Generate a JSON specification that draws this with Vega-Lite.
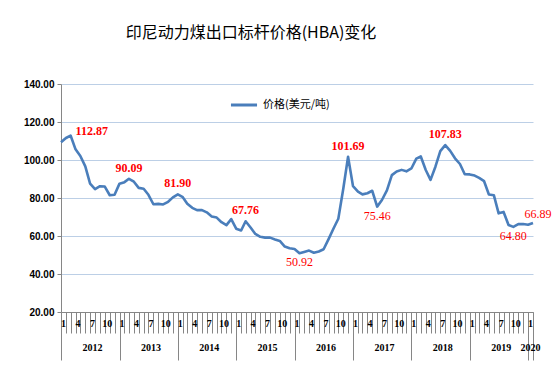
{
  "$schema": "https://vega.github.io/schema/vega-lite/v6.json",
  "width": 472,
  "height": 228,
  "autosize": {"type": "none"},
  "padding": {"left": 61, "top": 84, "right": 25, "bottom": 55},
  "background": "white",
  "config": {"view": {"stroke": null}},
  "title": {
    "text": "印尼动力煤出口标杆价格(HBA)变化",
    "font": "Noto Sans CJK SC",
    "fontSize": 16,
    "fontWeight": "normal",
    "color": "#000000",
    "anchor": "middle",
    "frame": "group",
    "dx": -46,
    "offset": 38
  },
  "data": {
    "values": [
      {"date": "2012-01", "price": 109.29}, {"date": "2012-02", "price": 111.58}, {"date": "2012-03", "price": 112.87},
      {"date": "2012-04", "price": 105.61}, {"date": "2012-05", "price": 102.12}, {"date": "2012-06", "price": 96.65},
      {"date": "2012-07", "price": 87.56}, {"date": "2012-08", "price": 84.65}, {"date": "2012-09", "price": 86.21},
      {"date": "2012-10", "price": 86.04}, {"date": "2012-11", "price": 81.44}, {"date": "2012-12", "price": 81.75},
      {"date": "2013-01", "price": 87.55}, {"date": "2013-02", "price": 88.35}, {"date": "2013-03", "price": 90.09},
      {"date": "2013-04", "price": 88.56}, {"date": "2013-05", "price": 85.33}, {"date": "2013-06", "price": 84.87},
      {"date": "2013-07", "price": 81.69}, {"date": "2013-08", "price": 76.70}, {"date": "2013-09", "price": 76.89},
      {"date": "2013-10", "price": 76.61}, {"date": "2013-11", "price": 78.01}, {"date": "2013-12", "price": 80.31},
      {"date": "2014-01", "price": 81.90}, {"date": "2014-02", "price": 80.44}, {"date": "2014-03", "price": 77.01},
      {"date": "2014-04", "price": 74.81}, {"date": "2014-05", "price": 73.60}, {"date": "2014-06", "price": 73.64},
      {"date": "2014-07", "price": 72.45}, {"date": "2014-08", "price": 70.29}, {"date": "2014-09", "price": 69.69},
      {"date": "2014-10", "price": 67.26}, {"date": "2014-11", "price": 65.70}, {"date": "2014-12", "price": 68.90},
      {"date": "2015-01", "price": 63.84}, {"date": "2015-02", "price": 62.92}, {"date": "2015-03", "price": 67.76},
      {"date": "2015-04", "price": 64.48}, {"date": "2015-05", "price": 61.08}, {"date": "2015-06", "price": 59.59},
      {"date": "2015-07", "price": 59.16}, {"date": "2015-08", "price": 59.14}, {"date": "2015-09", "price": 58.21},
      {"date": "2015-10", "price": 57.39}, {"date": "2015-11", "price": 54.43}, {"date": "2015-12", "price": 53.51},
      {"date": "2016-01", "price": 53.20}, {"date": "2016-02", "price": 50.92}, {"date": "2016-03", "price": 51.62},
      {"date": "2016-04", "price": 52.32}, {"date": "2016-05", "price": 51.20}, {"date": "2016-06", "price": 51.87},
      {"date": "2016-07", "price": 53.00}, {"date": "2016-08", "price": 58.37}, {"date": "2016-09", "price": 63.93},
      {"date": "2016-10", "price": 69.07}, {"date": "2016-11", "price": 84.89}, {"date": "2016-12", "price": 101.69},
      {"date": "2017-01", "price": 86.23}, {"date": "2017-02", "price": 83.32}, {"date": "2017-03", "price": 81.90},
      {"date": "2017-04", "price": 82.51}, {"date": "2017-05", "price": 83.81}, {"date": "2017-06", "price": 75.46},
      {"date": "2017-07", "price": 78.95}, {"date": "2017-08", "price": 83.97}, {"date": "2017-09", "price": 92.03},
      {"date": "2017-10", "price": 93.99}, {"date": "2017-11", "price": 94.80}, {"date": "2017-12", "price": 94.04},
      {"date": "2018-01", "price": 95.54}, {"date": "2018-02", "price": 100.69}, {"date": "2018-03", "price": 101.86},
      {"date": "2018-04", "price": 94.75}, {"date": "2018-05", "price": 89.53}, {"date": "2018-06", "price": 96.61},
      {"date": "2018-07", "price": 104.65}, {"date": "2018-08", "price": 107.83}, {"date": "2018-09", "price": 104.81},
      {"date": "2018-10", "price": 100.89}, {"date": "2018-11", "price": 97.90}, {"date": "2018-12", "price": 92.51},
      {"date": "2019-01", "price": 92.41}, {"date": "2019-02", "price": 91.80}, {"date": "2019-03", "price": 90.57},
      {"date": "2019-04", "price": 88.85}, {"date": "2019-05", "price": 81.86}, {"date": "2019-06", "price": 81.48},
      {"date": "2019-07", "price": 71.92}, {"date": "2019-08", "price": 72.67}, {"date": "2019-09", "price": 65.79},
      {"date": "2019-10", "price": 64.80}, {"date": "2019-11", "price": 66.27}, {"date": "2019-12", "price": 66.30},
      {"date": "2020-01", "price": 65.93}, {"date": "2020-02", "price": 66.89}
    ]
  },
  "encoding": {
    "x": {
      "field": "date",
      "type": "temporal",
      "scale": {
        "type": "utc",
        "nice": false,
        "domain": [
          {"year": 2012, "month": 1, "date": 1, "utc": true},
          {"year": 2020, "month": 2, "date": 1, "utc": true}
        ]
      },
      "axis": null
    },
    "y": {
      "field": "price",
      "type": "quantitative",
      "scale": {"domain": [20, 140], "nice": false, "zero": false},
      "axis": {
        "values": [20, 40, 60, 80, 100, 120, 140],
        "format": ".2f",
        "title": null,
        "grid": true,
        "gridColor": "#BCCFE6",
        "gridWidth": 1,
        "tickSize": 4,
        "tickColor": "#868686",
        "domainColor": "#868686",
        "labelFont": "Liberation Sans",
        "labelFontSize": 10,
        "labelFontWeight": "bold",
        "labelColor": "#000000",
        "labelPadding": 3
      }
    }
  },
  "layer": [
    {
      "mark": {"type": "line", "strokeWidth": 2.6, "strokeJoin": "round"},
      "encoding": {
        "x": {
          "field": "date",
          "type": "temporal",
          "axis": {
            "orient": "bottom",
            "title": null,
            "grid": false,
            "tickCount": {"interval": "month", "step": 1},
            "tickSize": 21,
            "tickColor": "#868686",
            "domainColor": "#868686",
            "labelExpr": "utcmonth(datum.value)==6 ? ['7', utcyear(datum.value)+''] : (utcyear(datum.value)==2020 && utcmonth(datum.value)==0) ? ['1','2020'] : (utcmonth(datum.value)%3==0 ? (utcmonth(datum.value)+1)+'' : '')",
            "labelOverlap": false,
            "labelFlush": false,
            "labelBound": false,
            "labelPadding": -15,
            "labelLineHeight": 24,
            "labelOffset": 2,
            "labelFont": "Liberation Serif",
            "labelFontSize": 10,
            "labelFontWeight": "bold",
            "labelColor": "#000000",
            "zindex": 1
          }
        },
        "color": {
          "datum": "价格(美元/吨)",
          "scale": {"range": ["#4A7EBB"]},
          "legend": {
            "orient": "none",
            "legendX": 168,
            "legendY": 6,
            "title": null,
            "symbolType": "stroke",
            "symbolStrokeWidth": 3,
            "symbolSize": 680,
            "labelFont": "Noto Sans CJK SC",
            "labelFontSize": 11,
            "labelColor": "#000000",
            "labelOffset": 4
          }
        }
      }
    },
    {
      "transform": [
        {"filter": "indexof([201303, 201401, 201503, 201612, 201808], utcyear(datum.date)*100 + utcmonth(datum.date) + 1) >= 0"}
      ],
      "mark": {"type": "text", "font": "Liberation Serif", "fontSize": 12, "fontWeight": "bold", "color": "#FF0000", "dy": -11},
      "encoding": {
        "x": {
          "field": "date",
          "type": "temporal",
          "axis": {
            "orient": "bottom",
            "title": null,
            "grid": false,
            "labels": false,
            "domain": false,
            "values": [
              {"year": 2012, "month": 1, "date": 1, "utc": true},
              {"year": 2013, "month": 1, "date": 1, "utc": true},
              {"year": 2014, "month": 1, "date": 1, "utc": true},
              {"year": 2015, "month": 1, "date": 1, "utc": true},
              {"year": 2016, "month": 1, "date": 1, "utc": true},
              {"year": 2017, "month": 1, "date": 1, "utc": true},
              {"year": 2018, "month": 1, "date": 1, "utc": true},
              {"year": 2019, "month": 1, "date": 1, "utc": true},
              {"year": 2020, "month": 1, "date": 1, "utc": true},
              {"year": 2020, "month": 2, "date": 1, "utc": true}
            ],
            "tickSize": 48,
            "tickColor": "#868686"
          }
        },
        "text": {"field": "price", "type": "quantitative", "format": ".2f"}
      }
    },
    {
      "transform": [
        {"filter": "indexof([201602, 201706, 201910], utcyear(datum.date)*100 + utcmonth(datum.date) + 1) >= 0"}
      ],
      "mark": {"type": "text", "font": "Liberation Serif", "fontSize": 12, "fontWeight": "normal", "color": "#FF0000", "dy": 9},
      "encoding": {
        "text": {"field": "price", "type": "quantitative", "format": ".2f"}
      }
    },
    {
      "transform": [
        {"filter": "utcyear(datum.date)==2012 && utcmonth(datum.date)==2"}
      ],
      "mark": {"type": "text", "font": "Liberation Serif", "fontSize": 12, "fontWeight": "bold", "color": "#FF0000", "align": "left", "dx": 5, "dy": -5},
      "encoding": {
        "text": {"field": "price", "type": "quantitative", "format": ".2f"}
      }
    },
    {
      "transform": [
        {"filter": "utcyear(datum.date)==2020 && utcmonth(datum.date)==1"}
      ],
      "mark": {"type": "text", "font": "Liberation Serif", "fontSize": 12, "fontWeight": "normal", "color": "#FF0000", "dx": 5, "dy": -9},
      "encoding": {
        "text": {"field": "price", "type": "quantitative", "format": ".2f"}
      }
    }
  ],
  "resolve": {"axis": {"x": "independent"}}
}
